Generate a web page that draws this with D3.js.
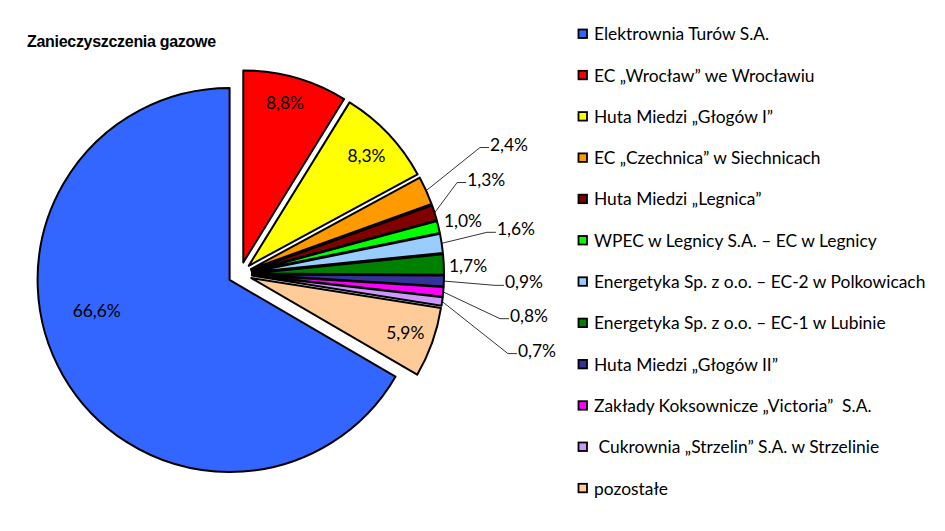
<!DOCTYPE html>
<html>
<head>
<meta charset="utf-8">
<script src="https://d3js.org/d3.v7.min.js"></script>
<style>
  body { margin: 0; background: #fff; }
  svg text { white-space: pre; }
</style>
</head>
<body>
<div id="chart"></div>
<script>
// chart data
var names = [
  "Elektrownia Turów S.A.",
  "EC \u201eWrocław\u201d we Wrocławiu",
  "Huta Miedzi \u201eGłogów I\u201d",
  "EC \u201eCzechnica\u201d w Siechnicach",
  "Huta Miedzi \u201eLegnica\u201d",
  "WPEC w Legnicy S.A. \u2013 EC w Legnicy",
  "Energetyka Sp. z o.o. \u2013 EC-2 w Polkowicach",
  "Energetyka Sp. z o.o. \u2013 EC-1 w Lubinie",
  "Huta Miedzi \u201eGłogów II\u201d",
  "Zakłady Koksownicze \u201eVictoria\u201d  S.A.",
  " Cukrownia \u201eStrzelin\u201d S.A. w Strzelinie",
  "pozostałe"
];
var values = [66.6, 8.8, 8.3, 2.4, 1.3, 1.0, 1.6, 1.7, 0.9, 0.8, 0.7, 5.9];
var colors = ["#3366FF", "#FF0000", "#FFFF00", "#FF9900", "#800000", "#00FF00",
              "#99CCFF", "#008000", "#333399", "#FF00FF", "#CC99FF", "#FFCC99"];
var title = "Zanieczyszczenia gazowe";

// label placement: [radius factor, angle shift in degrees, leader line]
var labelLayout = [
  [0.71, 17, false], [0.86, -1.2, false], [0.84, 0.3, false],
  [1.405, -3.5, true], [1.22, -5.5, true], [1.036, -1.6, false],
  [1.296, -1.4, true], [1.027, 0.5, false], [1.318, -0.3, true],
  [1.36, 3.8, true], [1.439, 7.9, true], [0.85, -0.3, false]
];

var width = 945, height = 531;
var cx = 240, cy = 274, radius = 192, explode = 12;
var font = "Lato, 'Open Sans', sans-serif";

var pl = d3.formatLocale({decimal: ",", thousands: " ", grouping: [3], currency: ["", " zł"]});
var fmt = pl.format(".1f");

var svg = d3.select("#chart").append("svg")
    .attr("width", width)
    .attr("height", height);

svg.append("text")
    .attr("x", 27)
    .attr("y", 47)
    .attr("font-family", "'Liberation Sans', Arial, sans-serif")
    .attr("font-weight", "bold")
    .attr("font-size", 16)
    .attr("letter-spacing", -0.3)
    .text(title);

var total = d3.sum(values);
var a0 = 2 * Math.PI * (1 - values[0] / total);
var pie = d3.pie().sort(null).value(function(d) { return d; })
    .startAngle(a0).endAngle(a0 + 2 * Math.PI);
var arcs = pie(values);
var arc = d3.arc().innerRadius(0).outerRadius(radius);

function dir(a) { return [Math.sin(a), -Math.cos(a)]; }

arcs.forEach(function(d, i) {
  var mid = (d.startAngle + d.endAngle) / 2;
  var v = dir(mid);
  d.ox = cx + explode * v[0];
  d.oy = cy + explode * v[1];
  d.mid = mid;
});

svg.append("g").selectAll("path")
  .data(arcs)
  .enter().append("path")
    .attr("transform", function(d) { return "translate(" + d.ox + "," + d.oy + ")"; })
    .attr("d", arc)
    .attr("fill", function(d, i) { return colors[i]; })
    .attr("stroke", "#000")
    .attr("stroke-width", 2)
    .attr("stroke-linejoin", "round");

// data labels
var lab = svg.append("g");
arcs.forEach(function(d, i) {
  var L = labelLayout[i];
  var a = d.mid + L[1] * Math.PI / 180;
  var p = dir(a);
  var lx = d.ox + radius * L[0] * p[0];
  var ly = d.oy + radius * L[0] * p[1];
  var outside = L[0] > 1;
  if (L[2]) {
    var e = dir(d.mid);
    var sx = d.ox + radius * e[0], sy = d.oy + radius * e[1];
    lab.append("polyline")
      .attr("points", [[sx, sy], [lx - 10, ly + 3.5], [lx - 1, ly + 3.5]].join(" "))
      .attr("fill", "none")
      .attr("stroke", "#000")
      .attr("stroke-width", 0.8);
  }
  lab.append("text")
    .attr("x", lx)
    .attr("y", ly)
    .attr("text-anchor", outside ? "start" : "middle")
    .attr("dominant-baseline", "central")
    .attr("font-family", font)
    .attr("font-size", 17.4)
    .attr("fill", "#000")
    .text(fmt(values[i]) + "%");
});

// legend
var ly0 = 33.7, lstep = 41.3;
var legend = svg.append("g").selectAll("g")
  .data(names)
  .enter().append("g")
    .attr("transform", function(d, i) { return "translate(578," + (ly0 + i * lstep) + ")"; });

legend.append("rect")
    .attr("x", 0.5).attr("y", -4.2)
    .attr("width", 8.5).attr("height", 8.5)
    .attr("fill", function(d, i) { return colors[i]; })
    .attr("stroke", "#000")
    .attr("stroke-width", 1.8);

legend.append("text")
    .attr("x", 16)
    .attr("y", 0)
    .attr("dominant-baseline", "central")
    .attr("font-family", font)
    .attr("font-size", 17.4)
    .text(function(d) { return d; });
</script>
</body>
</html>
